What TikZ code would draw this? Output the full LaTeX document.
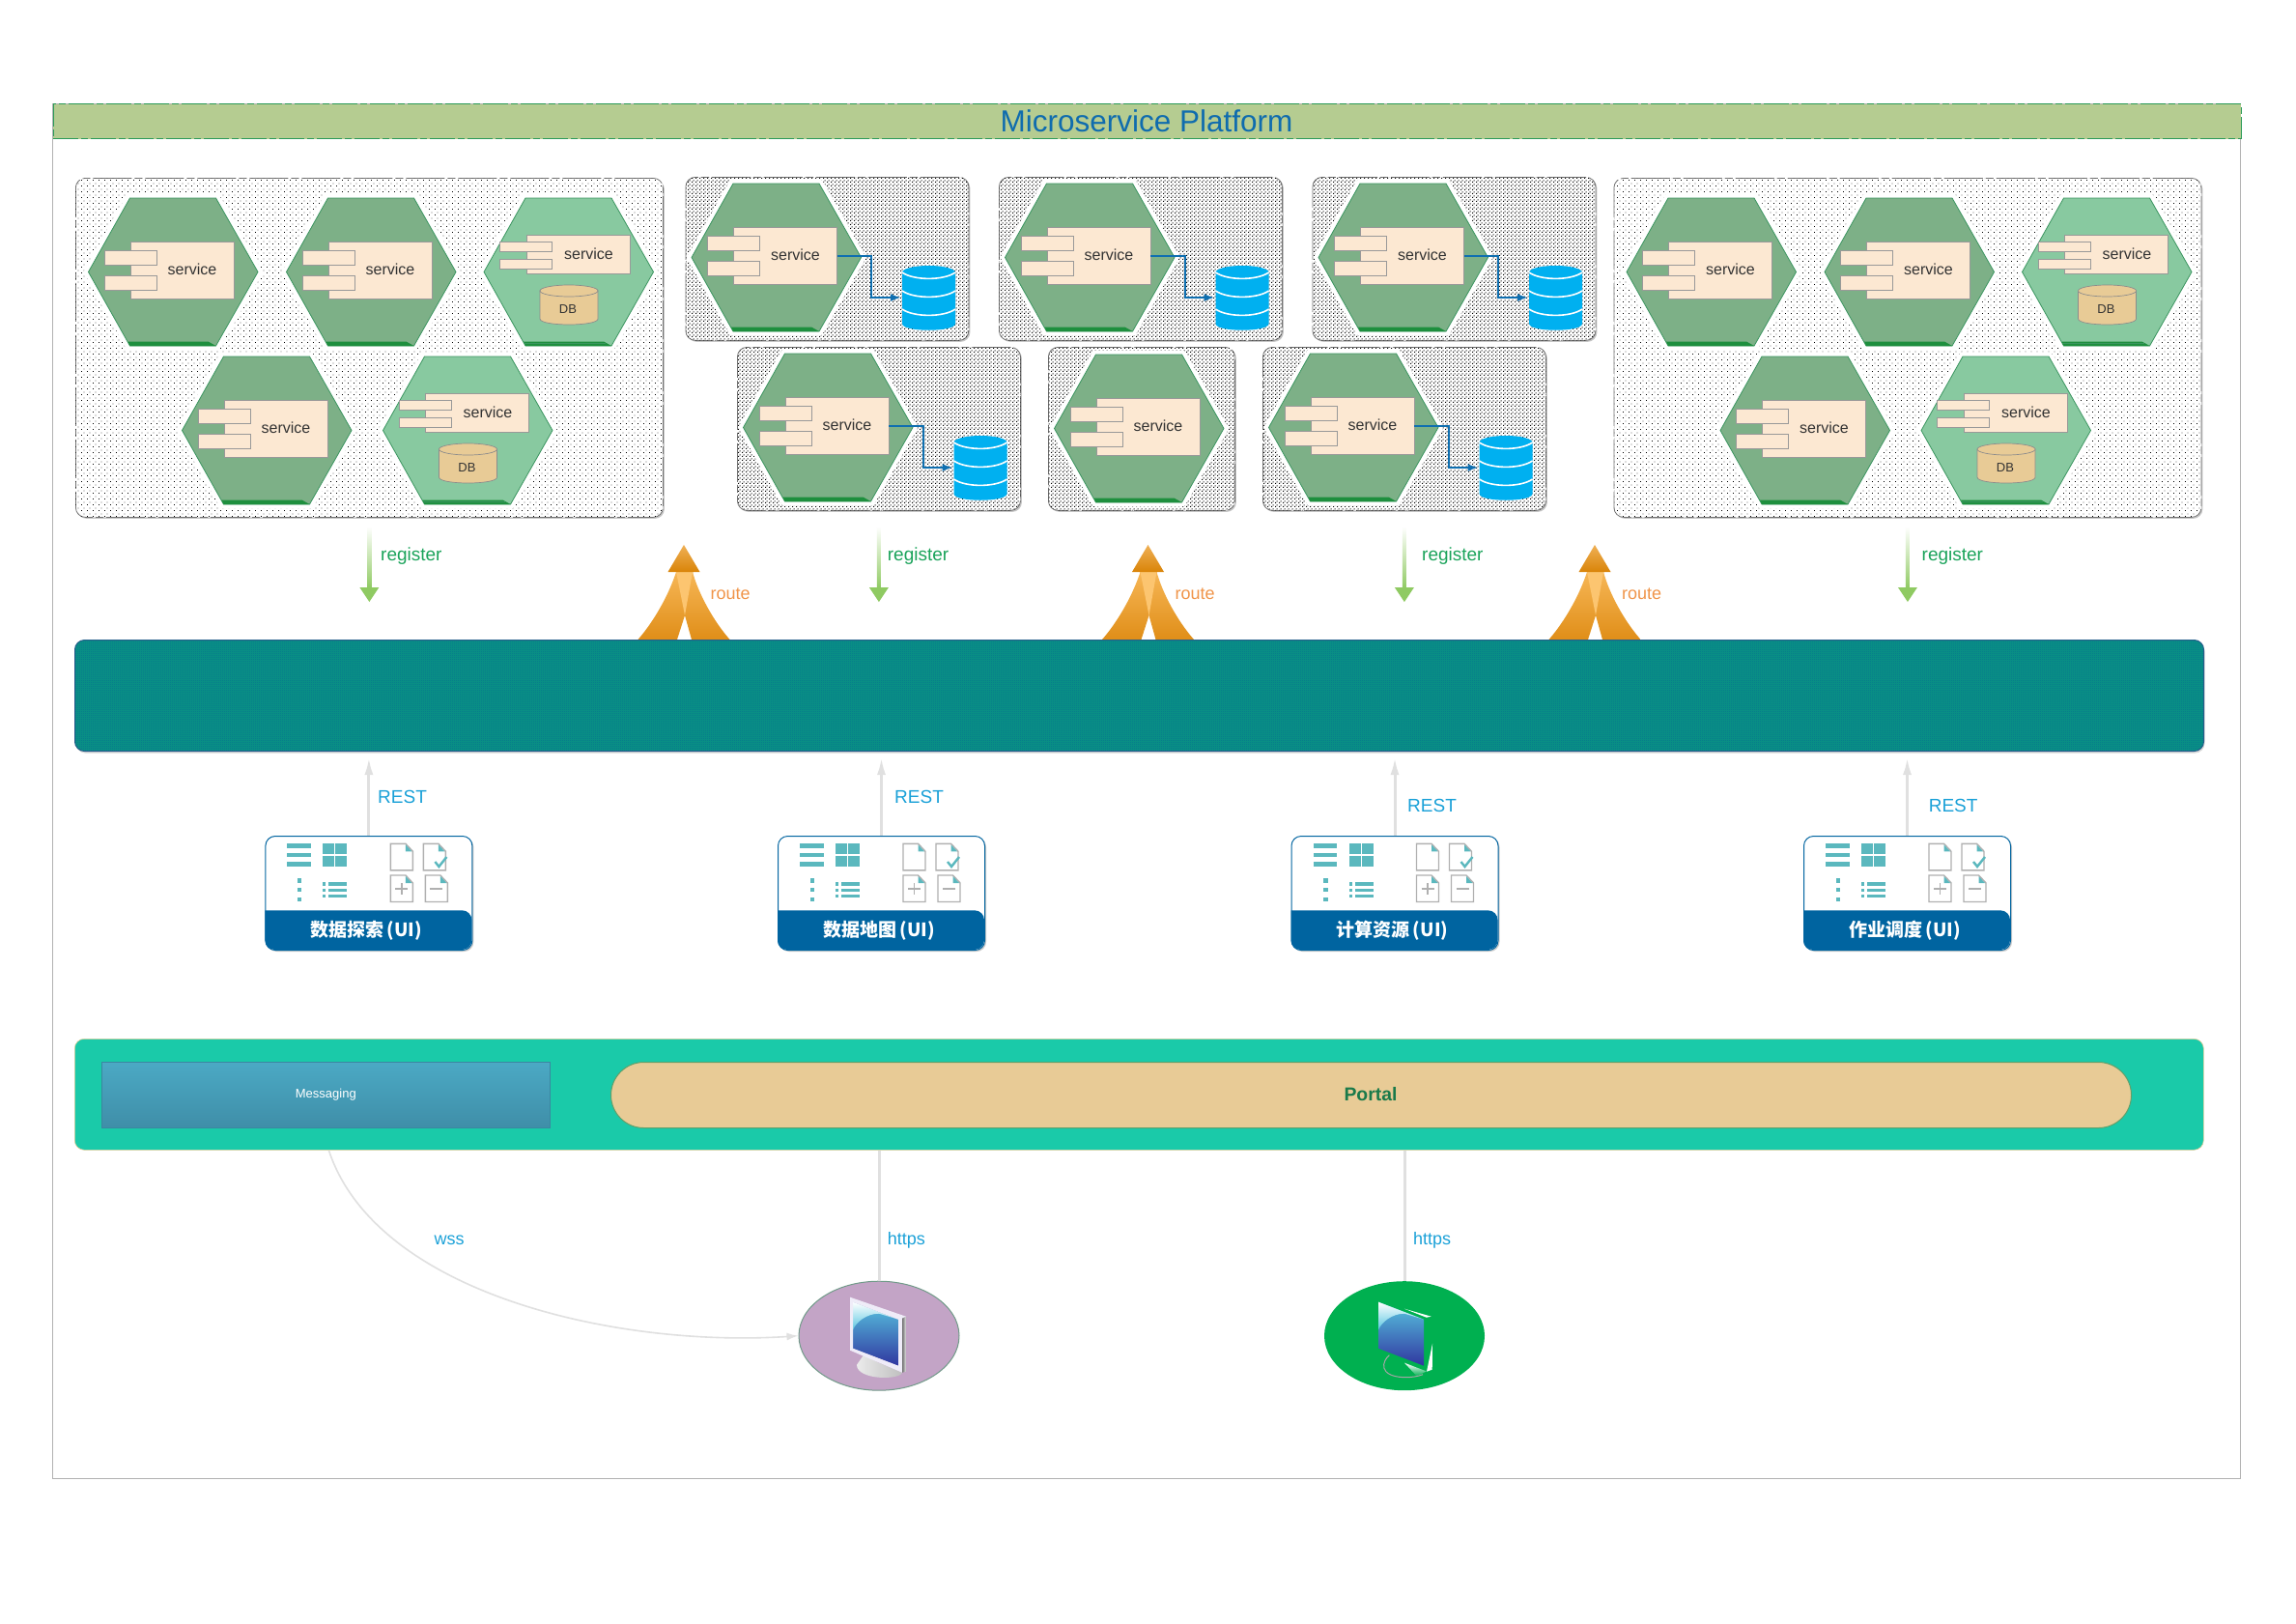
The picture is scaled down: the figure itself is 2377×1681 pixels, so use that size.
\documentclass[tikz,border=0pt]{standalone}
\usepackage{fontspec}
\setmainfont{Liberation Sans}
\newfontfamily\cjk{Noto Sans CJK SC}
\usetikzlibrary{arrows.meta,patterns,shapes.geometric,shadows}

\definecolor{titlefill}{HTML}{B5CC91}
\definecolor{titleline}{HTML}{2B9A58}
\definecolor{titletext}{HTML}{0F6CAE}
\definecolor{hexdark}{HTML}{7DB087}
\definecolor{hexlight}{HTML}{88C9A0}
\definecolor{hexline}{HTML}{3B9560}
\definecolor{hexbase}{HTML}{1E8F3E}
\definecolor{compfill}{HTML}{FCE8D2}
\definecolor{dbfill}{HTML}{E8CB96}
\definecolor{dbblue}{HTML}{00B0F0}
\definecolor{linkblue}{HTML}{0F6FB0}
\definecolor{busfill}{HTML}{0A9284}
\definecolor{busdot}{HTML}{06748E}
\definecolor{busline}{HTML}{2A5A8A}
\definecolor{reggreen}{HTML}{8FCA62}
\definecolor{regtext}{HTML}{1AA35A}
\definecolor{resttext}{HTML}{1BA1D8}
\definecolor{routetext}{HTML}{F0954A}
\definecolor{routeA}{HTML}{F6B656}
\definecolor{routeB}{HTML}{E08E18}
\definecolor{routeC}{HTML}{FCC570}
\definecolor{routeD}{HTML}{EFB055}
\definecolor{routeE}{HTML}{D98408}
\definecolor{cardblue}{HTML}{0064A0}
\definecolor{icontea}{HTML}{5BB8BE}
\definecolor{icongrey}{HTML}{B0B0B0}
\definecolor{barfill}{HTML}{1ACAA9}
\definecolor{msgtop}{HTML}{4BA9C4}
\definecolor{msgbot}{HTML}{3F8EA8}
\definecolor{msgline}{HTML}{3B86A0}
\definecolor{portalfill}{HTML}{E8CB96}
\definecolor{portaltext}{HTML}{1A7A4A}
\definecolor{clientpurple}{HTML}{C3A4C6}
\definecolor{clientgreen}{HTML}{00B050}
\definecolor{conngrey}{HTML}{E0E0E0}
\definecolor{screentop}{HTML}{58C6E0}
\definecolor{screenmid}{HTML}{4F90C6}
\definecolor{screenbot}{HTML}{3036A0}
\definecolor{screenhi}{HTML}{58C6E0}
\definecolor{framewhite}{HTML}{EFECF8}

\pgfdeclarepatternformonly{sparsedots}{\pgfqpoint{0pt}{0pt}}{\pgfqpoint{6pt}{6pt}}{\pgfqpoint{6pt}{6pt}}{
    \pgfpathrectangle{\pgfqpoint{0pt}{0pt}}{\pgfqpoint{1pt}{1pt}}
    \pgfpathrectangle{\pgfqpoint{3pt}{3pt}}{\pgfqpoint{1pt}{1pt}}
    \pgfusepath{fill}
}
\pgfdeclarepatternformonly{densedots}{\pgfqpoint{0pt}{0pt}}{\pgfqpoint{4pt}{4pt}}{\pgfqpoint{4pt}{4pt}}{
    \pgfpathrectangle{\pgfqpoint{0pt}{0pt}}{\pgfqpoint{1.3pt}{1.3pt}}
    \pgfpathrectangle{\pgfqpoint{2pt}{2pt}}{\pgfqpoint{1.3pt}{1.3pt}}
    \pgfusepath{fill}
}
\pgfdeclarepatternformonly{buschecks}{\pgfqpoint{0pt}{0pt}}{\pgfqpoint{2pt}{2pt}}{\pgfqpoint{2pt}{2pt}}{
    \pgfpathrectangle{\pgfqpoint{0pt}{0pt}}{\pgfqpoint{1pt}{1pt}}
    \pgfpathrectangle{\pgfqpoint{1pt}{1pt}}{\pgfqpoint{1pt}{1pt}}
    \pgfusepath{fill}
}

\tikzset{
    grpbox/.style={draw=black!55,line width=0.8pt,fill=white,rounded corners=10pt,inner sep=0pt,anchor=north west,
        dash pattern=on 40pt off 3pt on 8pt off 3pt,drop shadow={shadow xshift=1.5pt,shadow yshift=-1.5pt,fill=black!45}},
    grpsparse/.style={grpbox,postaction={pattern=sparsedots}},
    grpdense/.style={grpbox,postaction={pattern=densedots}},
    compbody/.style={draw=black!40,line width=0.8pt,fill=compfill,inner sep=0pt,anchor=north west,minimum width=107pt},
    comptab/.style={draw=black!40,line width=0.6pt,fill=compfill,inner sep=0pt,anchor=north west,minimum width=54pt},
    svclabel/.style={font=\fontsize{16}{16}\selectfont,text=black!80,inner sep=0pt},
    dblabel/.style={font=\fontsize{13}{13}\selectfont,text=black!80,inner sep=0pt},
    reglabel/.style={font=\fontsize{19}{19}\selectfont,text=regtext,anchor=west,inner sep=0pt},
    restlabel/.style={font=\fontsize{19}{19}\selectfont,text=resttext,anchor=west,inner sep=0pt},
    routelabel/.style={font=\fontsize{18}{18}\selectfont,text=routetext,anchor=west,inner sep=0pt},
    linklabel/.style={font=\fontsize{18}{18}\selectfont,text=resttext,inner sep=0pt},
    uicard/.style={draw=cardblue,line width=1pt,fill=white,rounded corners=10pt,inner sep=0pt,anchor=north west,
        minimum width=214pt,minimum height=118pt,drop shadow={shadow xshift=1.5pt,shadow yshift=-1.5pt,fill=black!40}},
    client/.style={ellipse,inner sep=0pt,minimum width=166pt,minimum height=113pt},
    conn/.style={draw=conngrey,line width=3pt},
    restarrow/.style={conn,-{Latex[length=18pt,width=9pt]},shorten >=6pt},
    iconline/.style={draw=icongrey,line width=1.4pt,fill=white}
}

\newcommand{\hexcell}[1]{
    \draw[white,line width=9pt,line join=round] (0,76.5)--(43,0)--(132,0)--(175.5,76.5)--(132,153)--(43,153)--cycle;
    \draw[fill=#1,draw=hexline,line width=0.8pt] (0,76.5)--(43,0)--(132,0)--(175.5,76.5)--(132,153)--(43,153)--cycle;
    \fill[hexbase] (43,153)--(132,153)--(124,148.5)--(41,148.5)--cycle;
}
\newcommand{\plainsvc}[3]{
    \begin{scope}[shift={(#2,#3)}]
        \hexcell{hexdark}
        \node[compbody,minimum height=59pt] (#1body) at (43,45) {};
        \node[comptab,minimum height=15pt] (#1tabu) at (16,54) {};
        \node[comptab,minimum height=15pt] (#1tabd) at (16,80) {};
        \node[svclabel] (#1text) at (107.5,74) {service};
    \end{scope}
}
\newcommand{\dbsvc}[3]{
    \begin{scope}[shift={(#2,#3)}]
        \hexcell{hexlight}
        \draw[hexline,line width=0.6pt] (42,150.5)--(126,150.5);
        \node[compbody,minimum height=40pt] (#1body) at (43.5,38) {};
        \node[comptab,minimum height=10pt] (#1tabu) at (16,45) {};
        \node[comptab,minimum height=10pt] (#1tabd) at (16,63) {};
        \node[svclabel] (#1text) at (108.5,58) {service};
        \draw[draw=black!45,line width=0.7pt,fill=dbfill] (58,96)--(58,125) .. controls (58,133) and (118,133) .. (118,125)--(118,96)--cycle;
        \draw[draw=black!45,line width=0.7pt,fill=dbfill] (88,96) ellipse [x radius=30pt,y radius=6pt];
        \node[dblabel] (#1db) at (87,115.5) {DB};
    \end{scope}
}
\newcommand{\bluedb}[1]{
    \coordinate (#1db) at (217,118);
    \fill[dbblue] (218,92)--(218,145) .. controls (218,154) and (273,154) .. (273,145)--(273,92)--cycle;
    \fill[dbblue] (245.5,92) ellipse [x radius=27.5pt,y radius=7pt];
    \foreach \y in {92,111,130}
        \draw[white,line width=1.6pt] (218,\y) .. controls (230,\y+8.5) and (261,\y+8.5) .. (273,\y);
}
\newcommand{\docicon}[2]{
    \draw[iconline] (#1,#2)--++(15.5,0)--++(7.5,8)--++(0,19.5)--++(-23,0)--cycle;
    \fill[icontea] (#1+15.5,#2+1)--++(6.5,7)--++(-6.5,0)--cycle;
}
\newcommand{\uiicons}{
    \foreach \y in {8.3,17.5,27}
        \fill[icontea] (23,\y) rectangle ++(24.5,4.8);
    \foreach \x in {60,73}
        \foreach \y in {8.3,21}
            \fill[icontea] (\x,\y) rectangle ++(12,10.8);
    \foreach \y in {44.3,54,64}
        \fill[icontea] (33.5,\y) rectangle ++(4.5,4.4);
    \foreach \y in {48.3,54.8,61}
        {
            \fill[icontea] (60,\y) rectangle ++(3,3.4);
            \fill[icontea] (66,\y) rectangle ++(19,3.4);
        }
    \docicon{130}{8.3}
    \docicon{164}{8.3}
    \docicon{130}{41}
    \docicon{166}{41}
    \draw[draw=icontea,line width=2.4pt] (176,27)--(180,32)--(188,22);
    \draw[draw=icongrey,line width=1.2pt] (135,55)--(148,55) (141.5,49)--(141.5,61);
    \draw[draw=icongrey,line width=1.2pt] (171,55)--(184,55);
}
\newcommand{\routeup}[1]{
    \begin{scope}[shift={(#1,564)}]
        \shade[top color=routeA,bottom color=routeB] (-47.5,98) .. controls (-30,78) and (-15,50) .. (-8,28)--(9.5,28)--(1,73)--(-7,98)--cycle;
        \shade[top color=routeA,bottom color=routeB] (47.5,98) .. controls (30,78) and (15,50) .. (9,28)--(-8,28)--(1,73)--(8,98)--cycle;
        \fill[routeC] (-8,28)--(9,28)--(1,73)--cycle;
        \shade[top color=routeD,bottom color=routeE] (0,0)--(-16.5,28)--(16.5,28)--cycle;
    \end{scope}
}

\begin{document}
\begin{tikzpicture}[x=1pt,y=-1pt]
    \useasboundingbox (0,0) rectangle (2377,1681);
    \fill[white] (0,0) rectangle (2377,1681);
    \draw[black!30,line width=1pt] (54.6,107) rectangle (2319.5,1530);
    \node[draw=titleline,fill=titlefill,line width=1.2pt,dash pattern=on 26pt off 3pt on 7pt off 3pt,inner sep=0pt,anchor=north west,minimum width=2265pt,minimum height=36pt] (titlebar) at (54.6,107) {};
    \node[font=\fontsize{31.5}{31.5}\selectfont,text=titletext,inner sep=0pt] (title) at (1187,125.5) {Microservice Platform};

    \foreach \gp/\dx in {L/0,R/1592.5}
        {
            \node[grpsparse,minimum width=608pt,minimum height=351pt] (grp\gp) at (78+\dx,184) {};
            \plainsvc{\gp a}{91.5+\dx}{205}
            \plainsvc{\gp b}{296.5+\dx}{205}
            \dbsvc{\gp c}{501+\dx}{205}
            \plainsvc{\gp d}{188.5+\dx}{369}
            \dbsvc{\gp e}{396.5+\dx}{369}
        }
    \foreach \gp/\gx/\gy in {A/709.5/183,B/1034/183,C/1358.5/183,D/763/359,F/1307/359}
        {
            \node[grpdense,minimum width=293pt,minimum height=169pt] (grp\gp) at (\gx,\gy) {};
            \plainsvc{\gp s}{\gx+6.5}{\gy+7}
            \begin{scope}[shift={(\gx+6.5,\gy+7)}]
                \bluedb{\gp s}
                \draw[linkblue,line width=2pt,-{Latex[length=11pt,width=8pt]}] (\gp sbody.east)--++(35.5,0) |- (\gp sdb);
            \end{scope}
        }
    \node[grpdense,minimum width=193pt,minimum height=169pt] (grpE) at (1085,359) {};
    \plainsvc{Es}{1091.5}{367}

    \foreach \gp/\lx in {L/394,D/918.7,F/1472,R/1989.5}
        {
            \shade[top color=white,bottom color=reggreen] (grp\gp.south |- 0,545) ++(-2,0) rectangle ++(4,64);
            \fill[reggreen] (grp\gp.south |- 0,623)--++(-10,-15)--++(20,0)--cycle;
            \node[reglabel] (reg\gp) at (\lx,576) {register};
        }
    \foreach \nm/\x/\lx in {a/708/735.3,b/1188.5/1216.5,c/1651/1679}
        {
            \routeup{\x}
            \node[routelabel] (route\nm) at (\lx,615) {route};
        }
    \node[draw=busline,fill=busfill,line width=1pt,rounded corners=10pt,inner sep=0pt,anchor=north west,minimum width=2204pt,minimum height=115pt,drop shadow={shadow xshift=1pt,shadow yshift=-2pt,fill=black!30},postaction={pattern=buschecks,pattern color=busdot}] (bus) at (77,662) {};

    \foreach \nm/\x/\lx/\ly/\txt in {A/274.4/391/824.7/数据探索,B/805/926/824.7/数据地图,C/1336.5/1457/833.8/计算资源,D/1867/1996.6/833.8/作业调度}
        {
            \node[uicard] (ui\nm) at (\x,865) {};
            \begin{scope}[shift={(\x,865)}]
                \fill[cardblue] (0,77.3) [rounded corners=10pt] -- (0,118) -- (214,118) -- (214,77.3) [sharp corners] -- cycle;
                \uiicons
                \node[font=\cjk\bfseries\fontsize{19}{19}\selectfont,text=white,inner sep=0pt] (ui\nm text) at (105,98) {\txt\,(UI)};
            \end{scope}
            \draw[restarrow] (ui\nm.north)--(ui\nm.north |- bus.south);
            \node[restlabel] (rest\nm) at (\lx,\ly) {REST};
        }

    \node[fill=barfill,draw=portalfill,line width=0.6pt,rounded corners=10pt,inner sep=0pt,anchor=north west,minimum width=2204pt,minimum height=115pt] (edgebar) at (77,1075) {};
    \node[top color=msgtop,bottom color=msgbot,draw=msgline,line width=1.2pt,inner sep=0pt,anchor=north west,minimum width=463.5pt,minimum height=68pt,font=\fontsize{13}{13}\selectfont,text=white] (msg) at (105,1099) {Messaging};
    \node[fill=portalfill,draw=hexline!80!portalfill,line width=1pt,rounded corners=34pt,inner sep=0pt,anchor=north west,minimum width=1574pt,minimum height=68pt] (portal) at (632,1099) {};
    \node[font=\bfseries\fontsize{19.4}{19.4}\selectfont,text=portaltext,inner sep=0pt] (portaltxt) at (1419,1133) {Portal};

    \node[client,fill=clientpurple,draw=hexline!60!clientpurple,line width=1pt] (webclient) at (910,1382.7) {};
    \node[client,fill=clientgreen] (mobileclient) at (1454,1382.7) {};
    \draw[conn] (webclient.north |- edgebar.south)--(webclient.north);
    \draw[conn] (mobileclient.north |- edgebar.south)--(mobileclient.north);
    \coordinate (wssfrom) at (340.5,1191);
    \draw[draw=conngrey,line width=1.6pt,-{Latex[length=12pt,width=8pt]}] (wssfrom) .. controls (390,1340) and (640,1395) .. (webclient.west);
    \node[linklabel] (wss) at (465,1284) {wss};
    \node[linklabel,anchor=west] (httpsa) at (918.7,1284) {https};
    \node[linklabel,anchor=west] (httpsb) at (1463,1284) {https};

    \foreach \nm/\x in {web/910,mobile/1454}
        {
            \begin{scope}[shift={(\x,1382.7)}]
                \shade[top color=screentop,middle color=screenmid,bottom color=screenbot] (-27,-35)--(20,-17)--(20,31)--(-27,13)--cycle;
                \shade[top color=white,bottom color=screenhi] (-27,-35)--(20,-17)--(0,-23) .. controls (-13,-23) and (-24,-14) .. (-27,-6)--cycle;
            \end{scope}
        }
    \begin{scope}[shift={(910,1382.7)}]
        \shade[left color=black!8,right color=black!25] (-23,30) .. controls (-23,46) and (22,46) .. (24,38)--(0,28)--(-16,20)--cycle;
        \fill[fill=framewhite,even odd rule] (-30,-40)--(28,-20)--(24,38)--(-30,15)--cycle (-27,-35)--(20,-17)--(20,31)--(-27,13)--cycle;
        \shade[left color=black!55,right color=black!10] (24,-18)--(28,-20)--(28,37)--(24,38)--cycle;
    \end{scope}
    \begin{scope}[shift={(1454,1382.7)}]
        \fill[white] (0,-28)--(27.7,-20)--(22.7,-19)--cycle;
        \fill[white] (29,8)--(28.7,35)--(23,37)--cycle;
        \shade[top color=white,bottom color=clientgreen] (0,28)--(22.7,36.7)--(12.7,41.7)--cycle;
        \draw[black!35,line width=1pt] (-15.7,20) .. controls (-23,26) and (-28,42) .. (0,43) .. controls (8,43) and (14,42) .. (19,40);
    \end{scope}
\end{tikzpicture}
\end{document}
